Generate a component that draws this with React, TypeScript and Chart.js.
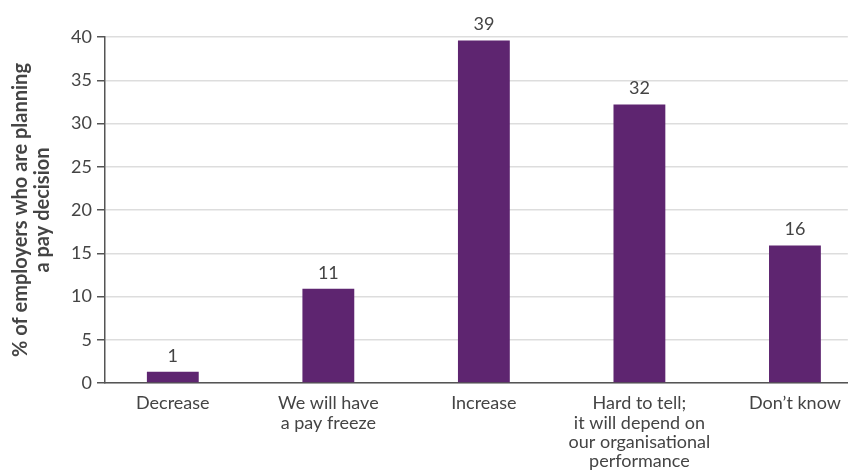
import React, { useEffect, useRef } from "react";
import { Chart, registerables } from "chart.js";

Chart.register(...registerables);

const categories: string[][] = [
  ["Decrease"],
  ["We will have", "a pay freeze"],
  ["Increase"],
  ["Hard to tell;", "it will depend on", "our organisational", "performance"],
  ["Don\u2019t know"],
];
const values: number[] = [1.3, 10.9, 39.6, 32.2, 15.9];
const valueLabels: string[] = ["1", "11", "39", "32", "16"];
const yTicks: number[] = [0, 5, 10, 15, 20, 25, 30, 35, 40];
const yTitle: string[] = ["% of employers who are planning", "a pay decision"];

const FONT = "Lato, 'Open Sans', sans-serif";
const TEXT = "#444444";
const BAR = "#5E2570";

const valueLabelPlugin = {
  id: "valueLabels",
  afterDatasetsDraw(chart: any) {
    const ctx = chart.ctx;
    const meta = chart.getDatasetMeta(0);
    ctx.save();
    ctx.font = `18px ${FONT}`;
    ctx.fillStyle = TEXT;
    ctx.textAlign = "center";
    ctx.textBaseline = "bottom";
    meta.data.forEach((el: any, i: number) => {
      ctx.fillText(valueLabels[i], el.x, el.y - 7);
    });
    ctx.restore();
  },
};

export default function App() {
  const ref = useRef<HTMLCanvasElement | null>(null);
  useEffect(() => {
    if (!ref.current) return;
    const chart = new Chart(ref.current, {
      type: "bar",
      data: {
        datasets: [
          {
            data: values.map((v, i) => ({ x: i, y: v })),
            backgroundColor: BAR,
            borderWidth: 0,
            categoryPercentage: 1,
            barPercentage: 1 / 3,
          },
        ],
      },
      options: {
        animation: false,
        responsive: false,
        maintainAspectRatio: false,
        layout: { padding: { top: 37, right: 2, left: 0, bottom: 0 } },
        plugins: {
          legend: { display: false },
          tooltip: { enabled: false },
        },
        scales: {
          x: {
            type: "linear",
            offset: false,
            min: -0.436,
            max: 4.34,
            afterBuildTicks(scale: any) {
              scale.ticks = categories.map((_, i) => ({ value: i }));
            },
            afterFit(scale: any) {
              scale.height = 90;
            },
            ticks: {
              autoSkip: false,
              maxRotation: 0,
              padding: 11,
              color: TEXT,
              font: { family: FONT, size: 18, lineHeight: 1.07 },
              callback: (v: any) => categories[Math.round(Number(v))] ?? "",
            },
            grid: { display: false, drawTicks: false, offset: false },
            border: { display: true, color: "#555555", width: 1.5 },
          },
          y: {
            min: 0,
            max: 40,
            afterBuildTicks(scale: any) {
              scale.ticks = yTicks.map((v) => ({ value: v }));
            },
            afterFit(scale: any) {
              scale.width = 105;
            },
            ticks: {
              padding: 5,
              color: TEXT,
              font: { family: FONT, size: 18 },
            },
            grid: {
              color: "#dddddd",
              lineWidth: 1.5,
              tickLength: 8,
              tickColor: "#555555",
              tickWidth: 1.5,
            },
            border: { display: true, color: "#555555", width: 1.5 },
            title: {
              display: true,
              text: yTitle,
              color: TEXT,
              font: { family: FONT, size: 20, weight: "bold", lineHeight: 1.1 },
              padding: { top: 10, bottom: 0 },
            },
          },
        },
      },
      plugins: [valueLabelPlugin],
    } as any);
    return () => chart.destroy();
  }, []);
  return (
    <div style={{ position: "fixed", left: 0, top: 0, width: 852, height: 473, background: "#fff" }}>
      <canvas ref={ref} width={852} height={473} style={{ width: 852, height: 473 }} />
    </div>
  );
}
